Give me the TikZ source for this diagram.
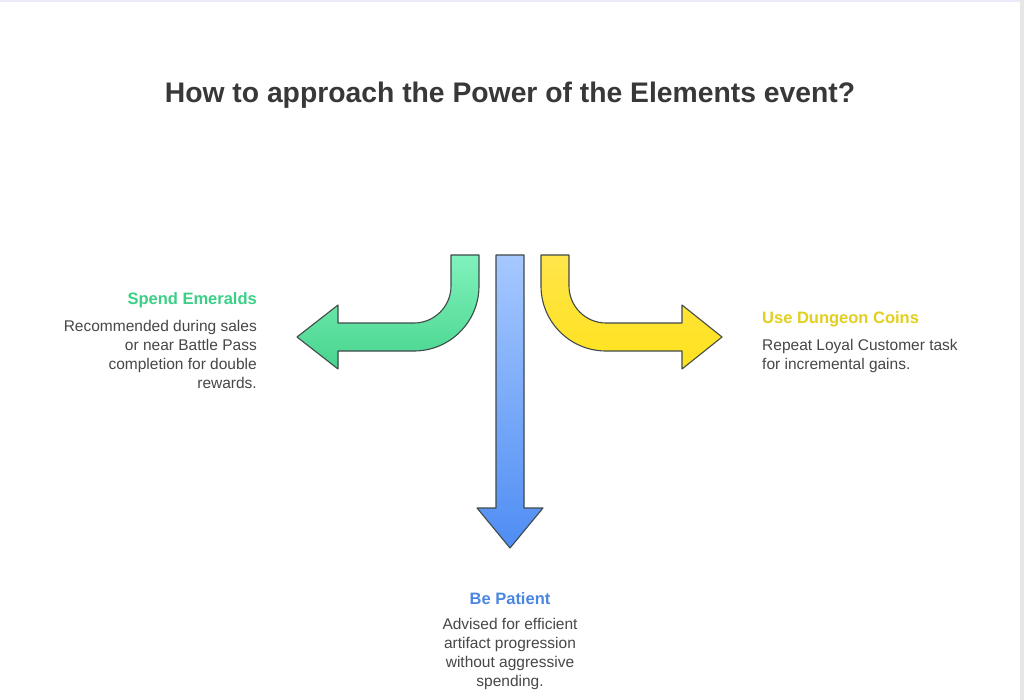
\documentclass[tikz,border=0pt]{standalone}
\usepackage{fontspec}
\setmainfont{Liberation Sans}
\usetikzlibrary{positioning}
\definecolor{titlegray}{HTML}{383838}
\definecolor{bodygray}{HTML}{474747}
\definecolor{outlinegray}{HTML}{3F4A4A}
\definecolor{emeraldtop}{HTML}{80F2BC}
\definecolor{emeraldbot}{HTML}{48D48D}
\definecolor{emeraldtext}{HTML}{3CCF88}
\definecolor{patienttop}{HTML}{A6C8FF}
\definecolor{patientbot}{HTML}{4F8DF3}
\definecolor{patienttext}{HTML}{4A86E2}
\definecolor{coinstop}{HTML}{FFE54A}
\definecolor{coinsbot}{HTML}{FFE21C}
\definecolor{coinstext}{HTML}{E2CF1E}
\definecolor{framelav}{HTML}{ECEAF8}
\definecolor{framegray}{HTML}{E6E6E6}
\begin{document}
\begin{tikzpicture}[x=1pt,y=-1pt,
  arrowshape/.style={draw=outlinegray,line width=1.1pt,line join=round},
  headtext/.style={font=\fontsize{16.5}{20}\selectfont\bfseries,inner sep=0pt},
  bodytext/.style={font=\fontsize{15.5}{19}\selectfont,text=bodygray,inner sep=0pt}]
\useasboundingbox (0,0) rectangle (1024,700);
\fill[white] (0,0) rectangle (1024,700);
\fill[framelav] (0,0) rectangle (1024,2.5);
\fill[framegray] (1020,0) rectangle (1024,700);

\coordinate (G0) at (465,255);
\coordinate (B0) at (510,255);
\coordinate (Y0) at (555,255);

\shade[arrowshape,top color=emeraldtop,bottom color=emeraldbot]
  (451,255) -- (479,255) -- (479,286)
  .. controls (479,321.9) and (449.9,351) .. (414,351)
  -- (338,351) -- (338,369) -- (297,337) -- (338,305) -- (338,323) -- (414,323)
  .. controls (434.4,323) and (451,306.4) .. (451,286) -- cycle;

\shade[arrowshape,top color=patienttop,bottom color=patientbot]
  (496,255) -- (524,255) -- (524,508) -- (543,508) -- (510,548)
  -- (477,508) -- (496,508) -- cycle;

\shade[arrowshape,top color=coinstop,bottom color=coinsbot]
  (541,255) -- (569,255) -- (569,286)
  .. controls (569,306.4) and (585.6,323) .. (606,323)
  -- (682,323) -- (682,305) -- (722,337) -- (682,369) -- (682,351) -- (606,351)
  .. controls (570.1,351) and (541,321.9) .. (541,286) -- cycle;

\node[font=\fontsize{28.3}{32}\selectfont\bfseries,text=titlegray,inner sep=0pt]
  (title) at (510,95) {How to approach the Power of the Elements event?};

\node[headtext,text=emeraldtext,anchor=east] (emeraldhead) at (257,300) {Spend Emeralds};
\node[bodytext,align=right,anchor=north east] (emeraldbody) at (257,320)
  {Recommended during sales\\or near Battle Pass\\completion for double\\rewards.};

\node[headtext,text=coinstext,anchor=west] (coinshead) at (762,319) {Use Dungeon Coins};
\node[bodytext,align=left,anchor=north west] (coinsbody) at (762,339)
  {Repeat Loyal Customer task\\for incremental gains.};

\node[headtext,text=patienttext] (patienthead) at (510,599) {Be Patient};
\node[bodytext,align=center,anchor=north] (patientbody) at (510,618)
  {Advised for efficient\\artifact progression\\without aggressive\\spending.};
\end{tikzpicture}
\end{document}
